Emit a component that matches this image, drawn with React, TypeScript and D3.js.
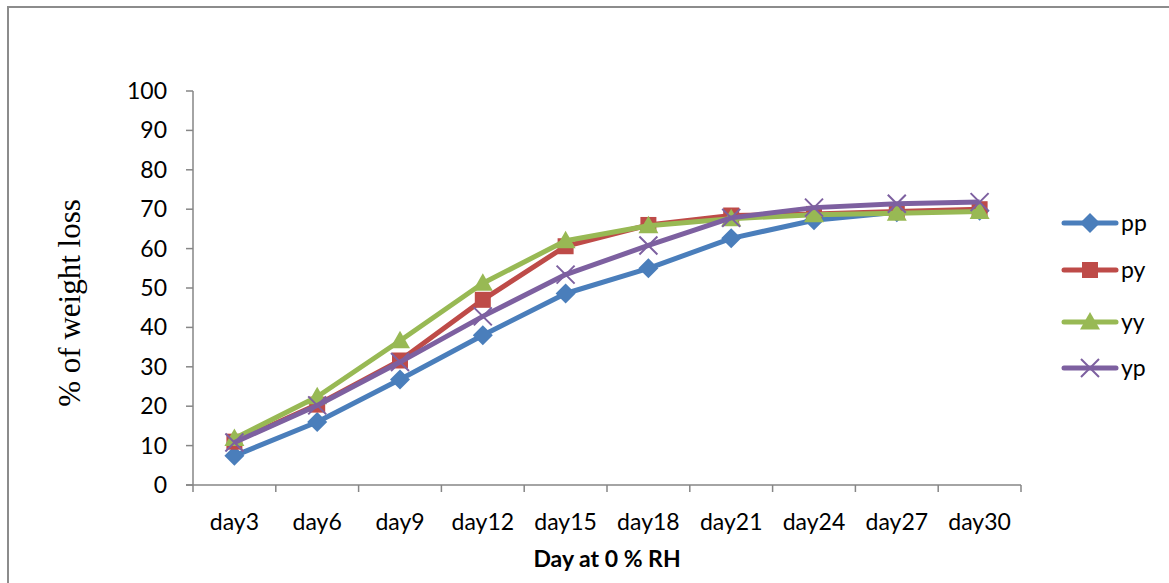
import React from "react";
import * as d3 from "d3";

const days = ["day3", "day6", "day9", "day12", "day15", "day18", "day21", "day24", "day27", "day30"];
const yTicks = [0, 10, 20, 30, 40, 50, 60, 70, 80, 90, 100];

const pp = [7.4, 16, 26.8, 38, 48.6, 55, 62.6, 67.2, 69.2, 69.6];
const py = [11, 20.4, 31.6, 47, 60.6, 66, 68.4, 68.8, 69.4, 70];
const yy = [11.8, 22.4, 36.6, 51.2, 62, 65.8, 67.6, 68.6, 69, 69.4];
const yp = [10.8, 20.2, 31.2, 42.8, 53.4, 60.8, 67.8, 70.4, 71.4, 71.8];

const seriesNames = ["pp", "py", "yy", "yp"];
const seriesValues = [pp, py, yy, yp];
const colors = ["#4a7ebb", "#be4b48", "#98b954", "#7d60a0"];
const markers = ["diamond", "square", "triangle", "cross"];

const W = 1169, H = 583;
const margin = { left: 193, right: 1021, top: 91, bottom: 485 };
const labelFont = "Lato, 'Open Sans', sans-serif";

function Marker({ kind, x, y, color }: { kind: string; x: number; y: number; color: string }) {
  if (kind === "diamond") {
    const s = 10;
    return <path d={`M${x},${y - s}L${x + s},${y}L${x},${y + s}L${x - s},${y}Z`} fill={color} />;
  }
  if (kind === "square") {
    const s = 8;
    return <rect x={x - s} y={y - s} width={2 * s} height={2 * s} fill={color} />;
  }
  if (kind === "triangle") {
    const s = 10;
    return <path d={`M${x},${y - s}L${x + s},${y + s * 0.75}L${x - s},${y + s * 0.75}Z`} fill={color} />;
  }
  const s = 9;
  return (
    <path d={`M${x - s},${y - s}L${x + s},${y + s}M${x - s},${y + s}L${x + s},${y - s}`} stroke={color} strokeWidth={2} />
  );
}

export default function App() {
  const x = d3.scaleBand().domain(days).range([margin.left, margin.right]);
  const y = d3.scaleLinear().domain([0, 100]).range([margin.bottom, margin.top]);
  const cx = (d: string) => (x(d) as number) + x.bandwidth() / 2;
  const line = d3.line<number>().x((_, i) => cx(days[i])).y((v) => y(v));
  const tickX = days.map((d) => x(d) as number).concat([margin.right]);

  const legendY = [223, 270, 322, 368];

  return (
    <svg width={W} height={H} style={{ position: "absolute", left: 0, top: 0, background: "#fff" }}>
      <rect x={8} y={7} width={1200} height={620} fill="#fff" stroke="#8c8c8c" strokeWidth={2} />

      {/* axes */}
      <line x1={margin.left} x2={margin.left} y1={margin.top} y2={margin.bottom} stroke="#868686" strokeWidth={1.5} />
      <line x1={margin.left - 7} x2={margin.right} y1={margin.bottom} y2={margin.bottom} stroke="#868686" strokeWidth={1.5} />
      {yTicks.map((t) => (
        <g key={t}>
          <line x1={margin.left - 7} x2={margin.left} y1={y(t)} y2={y(t)} stroke="#868686" strokeWidth={1.5} />
          <text x={margin.left - 26} y={y(t)} dy="0.35em" textAnchor="end" fontSize={23} fontFamily={labelFont} fill="#000">
            {t}
          </text>
        </g>
      ))}
      {tickX.map((tx, i) => (
        <line key={i} x1={tx} x2={tx} y1={margin.bottom} y2={margin.bottom + 7} stroke="#868686" strokeWidth={1.5} />
      ))}
      {days.map((d) => (
        <text key={d} x={cx(d)} y={530} textAnchor="middle" fontSize={23} fontFamily={labelFont} fill="#000">
          {d}
        </text>
      ))}

      <text x={607} y={567} textAnchor="middle" fontSize={23} fontWeight="bold" fontFamily={labelFont} fill="#000">
        Day at 0 % RH
      </text>
      <text
        transform={`translate(80,303) rotate(-90)`}
        textAnchor="middle"
        fontSize={31}
        fontFamily="'Liberation Serif', 'DejaVu Serif', serif"
        fill="#000"
      >
        % of weight loss
      </text>

      {/* series */}
      {seriesValues.map((vals, si) => (
        <g key={seriesNames[si]}>
          <path d={line(vals) || ""} fill="none" stroke={colors[si]} strokeWidth={5} strokeLinejoin="round" />
          {vals.map((v, i) => (
            <Marker key={i} kind={markers[si]} x={cx(days[i])} y={y(v)} color={colors[si]} />
          ))}
        </g>
      ))}

      {/* legend */}
      {seriesNames.map((n, i) => (
        <g key={n}>
          <line x1={1064} x2={1116} y1={legendY[i]} y2={legendY[i]} stroke={colors[i]} strokeWidth={5} strokeLinecap="round" />
          <Marker kind={markers[i]} x={1090} y={legendY[i]} color={colors[i]} />
          <text x={1121} y={legendY[i]} dy="0.35em" fontSize={23} fontFamily={labelFont} fill="#000">
            {n}
          </text>
        </g>
      ))}
    </svg>
  );
}
